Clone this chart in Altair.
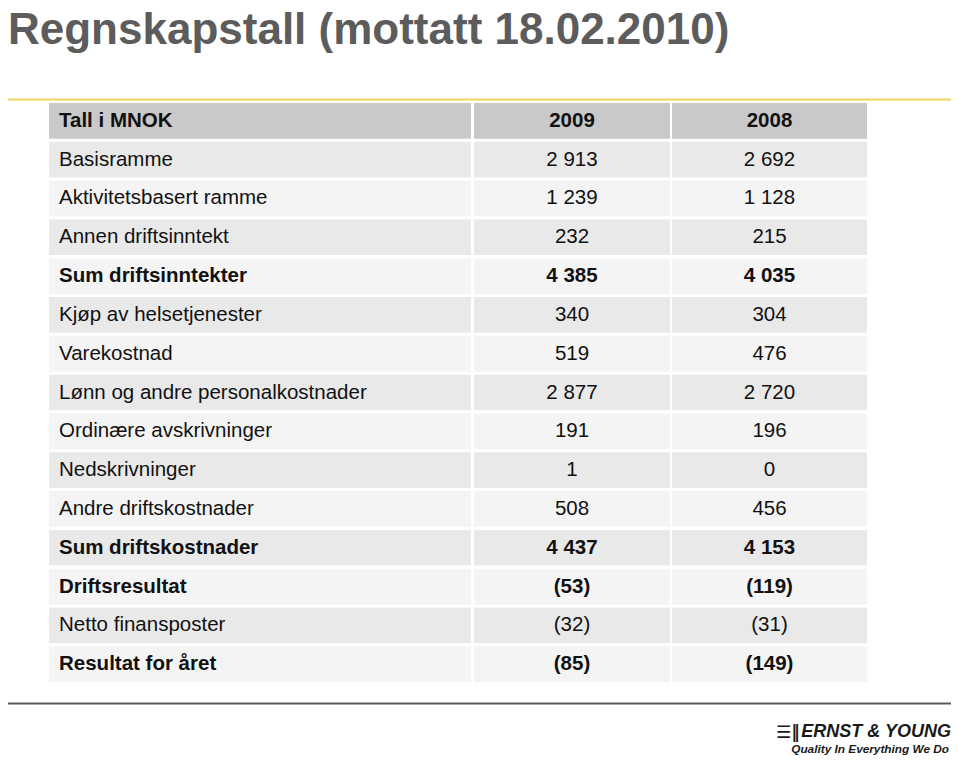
import altair as alt
import pandas as pd

# ---------------- data ----------------
title_text = "Regnskapstall (mottatt 18.02.2010)"
header = ["Tall i MNOK", "2009", "2008"]
labels = [
    "Basisramme",
    "Aktivitetsbasert ramme",
    "Annen driftsinntekt",
    "Sum driftsinntekter",
    "Kjøp av helsetjenester",
    "Varekostnad",
    "Lønn og andre personalkostnader",
    "Ordinære avskrivninger",
    "Nedskrivninger",
    "Andre driftskostnader",
    "Sum driftskostnader",
    "Driftsresultat",
    "Netto finansposter",
    "Resultat for året",
]
values_2009 = [2913, 1239, 232, 4385, 340, 519, 2877, 191, 1, 508, 4437, -53, -32, -85]
values_2008 = [2692, 1128, 215, 4035, 304, 476, 2720, 196, 0, 456, 4153, -119, -31, -149]
bold_rows = ["Sum driftsinntekter", "Sum driftskostnader", "Driftsresultat", "Resultat for året"]
logo_icon = "☰‖"
logo_name = "ERNST & YOUNG"
logo_tagline = "Quality In Everything We Do"

# ---------------- layout / style ----------------
W, H = 943, 747
col_left = [41, 466, 664]
col_right = [463, 662, 859]
HEADER_FILL = "#c9c9c9"
DARK_FILL = "#e9e9e9"
LIGHT_FILL = "#f4f4f4"
FONT = "Liberation Sans"


def fmt(v):
    s = f"{abs(v):,}".replace(",", " ")
    return f"({s})" if v < 0 else s


row_names = [header[0]] + labels
records = []
for r, name in enumerate(row_names):
    if r == 0:
        texts = header
        fill = HEADER_FILL
        bold = True
    else:
        texts = [name, fmt(values_2009[r - 1]), fmt(values_2008[r - 1])]
        fill = DARK_FILL if r % 2 == 1 else LIGHT_FILL
        bold = name in bold_rows
    for c in range(3):
        left, right = col_left[c], col_right[c]
        records.append(
            dict(
                row=name,
                col=c,
                text=texts[c],
                left=left,
                right=right,
                tx=left + 10 if c == 0 else (left + right) / 2,
                fill=fill,
                bold=bold,
            )
        )
df = pd.DataFrame(records)

xs = alt.Scale(domain=[0, W], range=[0, W], zero=False, nice=False)
ys = alt.Scale(domain=row_names, range=[95, 674], paddingInner=0.08, paddingOuter=0)

base = alt.Chart(df)

cells = base.mark_rect().encode(
    x=alt.X("left:Q", scale=xs, axis=None),
    x2="right:Q",
    y=alt.Y("row:N", scale=ys, axis=None),
    color=alt.Color("fill:N", scale=None, legend=None),
)


def text_layer(col_filter, bold, align):
    return (
        base.transform_filter(col_filter)
        .transform_filter(alt.datum.bold == bold)
        .mark_text(
            align=align,
            baseline="middle",
            font=FONT,
            fontSize=20.5,
            fontWeight="bold" if bold else "normal",
            color="#111111",
        )
        .encode(
            x=alt.X("tx:Q", scale=xs, axis=None),
            y=alt.Y("row:N", scale=ys, axis=None),
            text="text:N",
        )
    )


lab_n = text_layer(alt.datum.col == 0, False, "left")
lab_b = text_layer(alt.datum.col == 0, True, "left")
val_n = text_layer(alt.datum.col > 0, False, "center")
val_b = text_layer(alt.datum.col > 0, True, "center")

title = alt.Chart(pd.DataFrame({"t": [title_text]})).mark_text(
    align="left", baseline="alphabetic", font=FONT,
    fontSize=44, fontWeight="bold", color="#5c5c5c",
).encode(x=alt.value(0), y=alt.value(36), text="t:N")

yellow = alt.Chart(pd.DataFrame({"a": [0]})).mark_rule(
    color="#f2d55a", strokeWidth=2
).encode(x=alt.value(0), x2=alt.value(W), y=alt.value(91.5))

bottom = alt.Chart(pd.DataFrame({"a": [0]})).mark_rule(
    color="#5a5a5a", strokeWidth=2
).encode(x=alt.value(0), x2=alt.value(W), y=alt.value(695.5))

icon = alt.Chart(pd.DataFrame({"t": [logo_icon]})).mark_text(
    align="left", baseline="alphabetic", font="DejaVu Sans", fontSize=17,
    fontWeight="bold", color="#1a1a1a",
).encode(x=alt.value(768), y=alt.value(730), text="t:N")

logo1 = alt.Chart(pd.DataFrame({"t": [logo_name]})).mark_text(
    align="right", baseline="alphabetic", font=FONT, fontSize=18,
    fontStyle="italic", fontWeight="bold", color="#1a1a1a",
).encode(x=alt.value(943), y=alt.value(729), text="t:N")

logo2 = alt.Chart(pd.DataFrame({"t": [logo_tagline]})).mark_text(
    align="right", baseline="alphabetic", font=FONT, fontSize=11.8,
    fontStyle="italic", fontWeight="bold", color="#1a1a1a",
).encode(x=alt.value(941), y=alt.value(745), text="t:N")

chart = (
    alt.layer(cells, lab_n, lab_b, val_n, val_b, title, yellow, bottom, icon, logo1, logo2)
    .properties(width=W, height=H, autosize=alt.AutoSizeParams(type="none"), padding=0)
    .configure(background="white")
    .configure_view(stroke=None)
)

chart.save("out.html", embed_options={"renderer": "svg", "actions": False})
